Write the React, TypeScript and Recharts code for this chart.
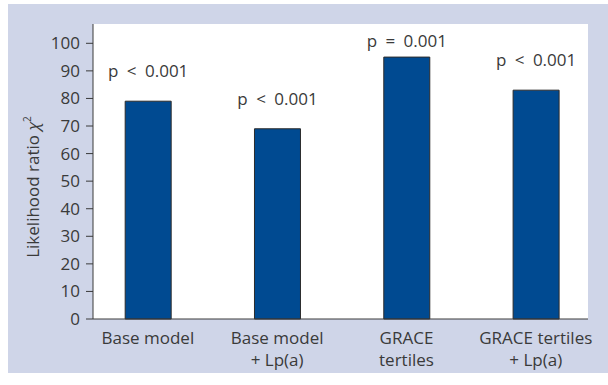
import { Bar, BarChart, CartesianGrid, LabelList, XAxis, YAxis } from "recharts";

const categoryTop = ["Base model", "Base model", "GRACE", "GRACE tertiles"];
const categoryBottom = ["", "+ Lp(a)", "tertiles", "+ Lp(a)"];
const chiSquare = [79, 69, 95, 83];
const pValues = ["p < 0.001", "p < 0.001", "p = 0.001", "p < 0.001"];
const yTicks = [0, 10, 20, 30, 40, 50, 60, 70, 80, 90, 100];

const data = categoryTop.map((name, i) => ({
  idx: i,
  name,
  chi: chiSquare[i],
  p: pValues[i],
}));

const FONT = "'Open Sans', 'Noto Sans', sans-serif";
const INK = "#3a3a3a";
const TOP = 20;

const CategoryTick = ({ x, y, payload }: any) => {
  const i = payload.value as number;
  return (
    <g transform={`translate(${x},${y})`}>
      <text textAnchor="middle" fontFamily={FONT} fontSize={17} fill={INK}>
        <tspan x={0} dy={25}>
          {categoryTop[i]}
        </tspan>
        {categoryBottom[i] && (
          <tspan x={0} dy={22}>
            {categoryBottom[i]}
          </tspan>
        )}
      </text>
    </g>
  );
};

const PLabel = ({ x, y, width, value }: any) => {
  const baseline = Math.max(y - 24, TOP + 23);
  return (
    <text
      x={x + width / 2}
      y={baseline}
      textAnchor="middle"
      fontFamily={FONT}
      fontSize={17}
      fill={INK}
      wordSpacing={4}
    >
      {value}
    </text>
  );
};

const YTitle = () => (
  <text
    transform="translate(31,183) rotate(-90)"
    textAnchor="middle"
    fontFamily={FONT}
    fontSize={17}
    fill={INK}
  >
    Likelihood ratio{" "}
    <tspan fontStyle="italic">χ</tspan>
    <tspan dy={-8} fontSize={10}>
      2
    </tspan>
  </text>
);

export default function App() {
  return (
    <div
      style={{
        position: "absolute",
        left: 8,
        top: 4,
        width: 600,
        height: 369,
        background: "#cfd5e8",
      }}
    >
      <BarChart
        width={600}
        height={369}
        data={data}
        margin={{ top: TOP, right: 20, left: 25, bottom: 0 }}
      >
        <CartesianGrid fill="#fff" horizontal={false} vertical={false} />
        <XAxis
          dataKey="idx"
          type="number"
          domain={[-0.424, 3.404]}
          ticks={[0, 1, 2, 3]}
          tick={<CategoryTick />}
          tickLine={false}
          tickSize={0}
          tickMargin={0}
          height={54}
          axisLine={{ stroke: INK }}
          interval={0}
        />
        <YAxis
          domain={[0, 107]}
          ticks={yTicks}
          width={60}
          tickSize={7}
          tickMargin={6}
          axisLine={{ stroke: INK }}
          tickLine={{ stroke: INK }}
          tick={{ fill: INK, fontSize: 17, fontFamily: FONT }}
          label={{ content: () => <YTitle /> }}
        />
        <Bar
          dataKey="chi"
          fill="#004a91"
          stroke="#2b2b2b"
          strokeWidth={1}
          barSize={46}
          isAnimationActive={false}
        >
          <LabelList dataKey="p" content={<PLabel />} />
        </Bar>
      </BarChart>
    </div>
  );
}
